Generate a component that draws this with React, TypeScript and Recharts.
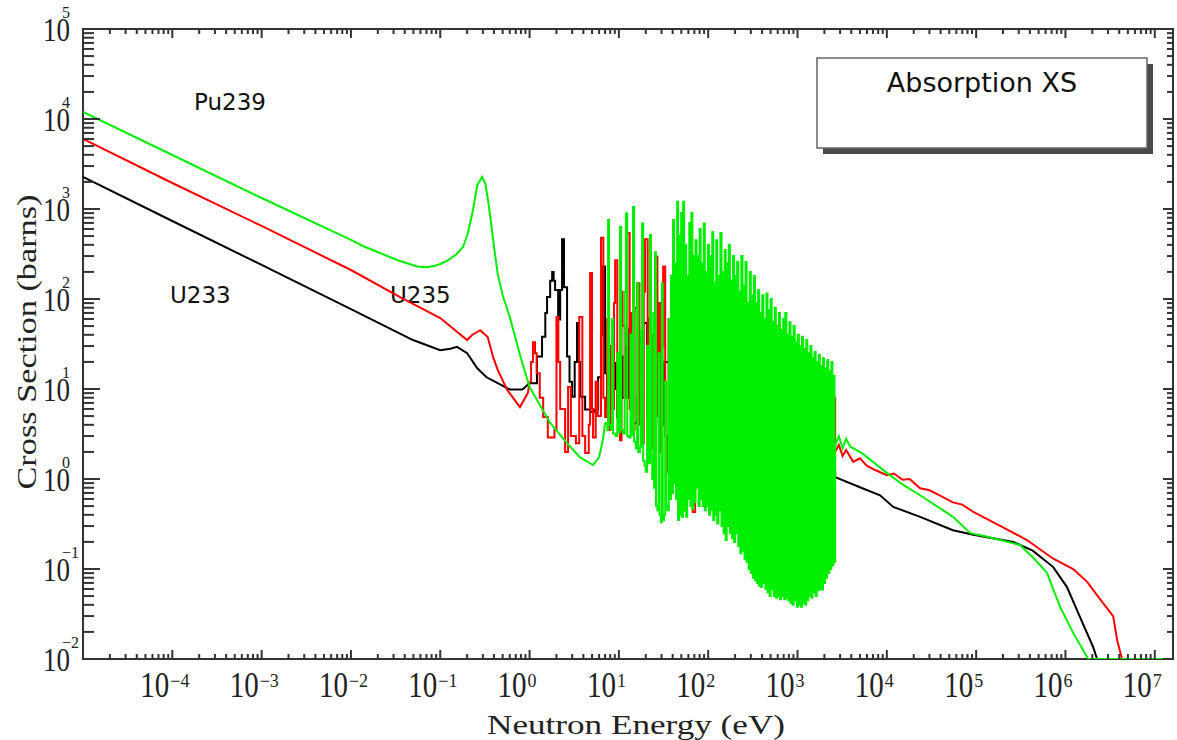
import React from 'react';
import { ComposedChart, Line, XAxis, YAxis } from 'recharts';

// energies in eV, cross sections in barns: [E, sigma]
type Pt = [number, number];

const xMajorTicks = [1e-4, 1e-3, 1e-2, 1e-1, 1, 10, 100, 1e3, 1e4, 1e5, 1e6, 1e7];
const xMinorDecades = [1e-5, 1e-4, 1e-3, 1e-2, 1e-1, 1, 10, 100, 1e3, 1e4, 1e5, 1e6];
const yMajorTicks = [1e-2, 1e-1, 1, 10, 100, 1e3, 1e4, 1e5];
const yMinorDecades = [1e-2, 1e-1, 1, 10, 100, 1e3, 1e4];
const minorSteps = [2, 3, 4, 5, 6, 7, 8, 9];

const seriesNames = ['U233', 'U235', 'Pu239'];

const u233Thermal: Pt[] = [
  [1e-5, 2270], [1e-4, 736], [1e-3, 239], [0.01, 77], [0.0495, 35], [0.1, 27], [0.13, 28],
  [0.154, 29.4], [0.2, 25], [0.26, 17], [0.33, 13.5], [0.44, 11.6], [0.6, 9.9], [0.83, 9.9],
  [1.0, 11.6],
];
const u233Resonance: Pt[] = [
  [1.0, 11.6], [1.1, 11.6], [1.21, 23], [1.38, 38], [1.5, 70], [1.57, 105], [1.7, 160], [1.79, 200],
  [1.86, 160], [1.93, 126], [2.09, 59], [2.2, 126], [2.31, 460], [2.43, 135], [2.63, 23], [2.8, 12],
  [2.99, 8.2], [3.2, 20], [3.4, 54], [3.55, 20], [3.68, 8.2], [4.19, 5.9], [4.76, 5.6], [5.42, 5.9],
  [5.85, 13.5], [6.3, 40], [6.65, 230], [7.0, 15], [7.38, 6.3], [8.0, 8], [8.61, 19.5], [9.2, 10],
  [9.55, 4.9], [9.8, 23], [11, 8], [12.7, 46], [13.4, 10], [14.1, 4.2], [16, 8], [18.7, 54],
  [20.7, 5], [24, 12], [28, 4], [32, 20], [37.4, 27], [41, 3], [44.9, 1.5], [48, 3.8], [52, 0.9],
  [55, 2.5], [59.6, 0.86], [65, 3], [75, 1.2], [90, 5], [110, 1.3], [150, 6], [200, 1.5], [300, 5],
  [450, 1.2], [700, 4], [1000, 1.3], [1500, 3], [2000, 1.2], [2640, 1.05],
];
const u233Fast: Pt[] = [
  [2640, 1.05], [5000, 0.81], [8400, 0.66], [1.18e4, 0.49], [2.36e4, 0.38], [5.5e4, 0.27],
  [9.3e4, 0.24], [2.6e5, 0.2], [4.3e5, 0.16], [7.3e5, 0.105], [1.04e6, 0.063], [1.46e6, 0.029],
  [2.04e6, 0.0136], [2.26e6, 0.01], [1.6e7, 0.01],
];

const u235Thermal: Pt[] = [
  [1e-5, 6000], [1e-4, 1945], [1e-3, 648], [0.01, 210], [0.0355, 105], [0.1, 61.5], [0.2, 35],
  [0.227, 39.8], [0.28, 45], [0.34, 37.8], [0.39, 22.7], [0.44, 16.3], [0.56, 9.8], [0.78, 6.3],
  [0.96, 9.1], [1.0, 12],
];
const u235Resonance: Pt[] = [
  [1.0, 12], [1.04, 20], [1.09, 33], [1.15, 25], [1.2, 15], [1.3, 8], [1.42, 4.9], [1.6, 2.9],
  [1.9, 3.5], [2.0, 63], [2.1, 20], [2.2, 6], [2.5, 2.0], [2.7, 10.5], [2.9, 3], [3.3, 2.5],
  [3.6, 63], [3.9, 3], [4.19, 1.95], [4.6, 4], [4.76, 195], [5.0, 6], [5.14, 2.9], [5.5, 12],
  [5.8, 5], [6.3, 480], [6.7, 8], [7.01, 4.9], [7.4, 60], [7.7, 3.5], [8.0, 30], [8.5, 6],
  [8.8, 90], [9.08, 270], [9.6, 5], [10.3, 2.7], [10.7, 120], [11, 50], [11.6, 8], [12.0, 30],
  [12.4, 540], [13.2, 6], [13.7, 70], [14.1, 3.5], [15, 80], [16.0, 150], [17, 4], [17.6, 40],
  [18.2, 2.5], [19.0, 120], [19.6, 460], [21, 10], [21.8, 60], [22.5, 2.2], [23.5, 40], [24.4, 5],
  [25.4, 295], [27, 5], [28, 90], [29, 2], [30.2, 30], [31.3, 230], [33, 3], [34.7, 1.2], [36, 60],
  [37, 20], [38.3, 3], [39.5, 175], [42, 3], [43.5, 80], [44.9, 1.8], [46.5, 240], [48.5, 3],
  [50, 40], [52, 175], [55, 1.5], [58, 54], [61, 2], [64.4, 163], [67, 0.43], [71.3, 90], [75, 3],
  [81.1, 37], [85, 48], [89, 1.5], [100, 20], [120, 5], [143, 59], [150, 2], [163, 98], [175, 3],
  [220, 10], [287, 0.17], [320, 8], [469, 33], [500, 3], [800, 12], [1000, 2], [1574, 16],
  [1700, 2], [2200, 8], [2640, 2.0],
];
const u235Fast: Pt[] = [
  [2640, 2.0], [2900, 2.4], [3200, 1.8], [3500, 2.1], [4200, 1.55], [5000, 1.7], [6000, 1.4],
  [7500, 1.25], [1.0e4, 1.1], [1.2e4, 1.15], [1.5e4, 0.98], [1.8e4, 1.0], [2.36e4, 0.79],
  [3e4, 0.75], [4e4, 0.65], [5.5e4, 0.55], [7e4, 0.52], [9.3e4, 0.43], [2.0e5, 0.29],
  [3.7e5, 0.21], [7.3e5, 0.13], [1.22e6, 0.1], [1.75e6, 0.072], [2.45e6, 0.046], [3.42e6, 0.03],
  [3.8e6, 0.016], [4.3e6, 0.01], [1.6e7, 0.01],
];

const pu239Thermal: Pt[] = [
  [1e-5, 1.2e4], [1e-4, 3980], [1e-3, 1325], [0.01, 453], [0.0136, 388], [0.0328, 271],
  [0.055, 230], [0.07, 225], [0.085, 232], [0.1, 245], [0.119, 265], [0.15, 310], [0.18, 378],
  [0.204, 540], [0.233, 980], [0.26, 1850], [0.294, 2270], [0.32, 1900], [0.345, 1200], [0.37, 700],
  [0.4, 380], [0.44, 190], [0.5, 110], [0.6, 63], [0.8, 22], [1.0, 10.5], [1.7, 4.2], [2.63, 2.5],
  [3.68, 1.74], [5.14, 1.43], [6.0, 1.74], [6.65, 2.8], [7.0, 4.2],
];
const pu239Resonance: Pt[] = [
  [7.0, 4.2], [7.4, 3.5], [7.57, 755], [7.75, 4.0], [8.1, 3.6], [8.4, 60], [8.6, 3.2], [9.2, 3.0],
  [9.6, 25], [9.9, 3.3], [10.3, 630], [10.6, 3.5], [11.2, 3.2], [11.6, 120], [12.0, 890], [12.4, 3.0],
  [13.0, 2.9], [13.5, 40], [13.9, 3.1], [14.4, 1050], [14.8, 2.6], [15.5, 2.2], [16.0, 150],
  [16.5, 2.0], [17.2, 2.3], [17.7, 45], [18.2, 690], [18.7, 1.6], [19.4, 1.4], [20.0, 1.2],
  [20.7, 30], [21.3, 1.5], [22.3, 515], [22.9, 1.8], [23.6, 1.0], [24.3, 70], [24.8, 0.8],
  [25.4, 330], [26.0, 0.5], [27.0, 0.45], [27.8, 25], [28.5, 0.4], [29.5, 0.33], [30.3, 150],
  [31.0, 0.35], [32.0, 0.4], [33.0, 12], [34.0, 0.5], [35.0, 0.45], [36.2, 60], [37.2, 0.6],
  [38.3, 180], [39.3, 0.7], [40.4, 755], [41.5, 0.9], [42.5, 250], [43.7, 0.6], [44.9, 1200],
  [46.0, 0.35], [47.2, 500], [48.5, 0.4], [49.8, 900], [51.0, 0.38], [52.4, 1200],
  [53.8, 0.45], [55.2, 400], [56.7, 0.38], [58.2, 180], [59.8, 0.6], [61.4, 700], [63.1, 0.5],
  [64.8, 900], [66.5, 0.46], [68.3, 300], [70.2, 0.55], [72.1, 450], [74.0, 0.8], [76.0, 300],
  [78.1, 0.5], [80.2, 600], [82.4, 0.6], [84.6, 250], [86.9, 0.5], [89.2, 690], [91.6, 0.45],
  [94.1, 200], [96.6, 0.5], [99.2, 400], [102, 0.4], [105, 300], [108, 0.45], [111, 550],
  [114, 0.35], [117, 150], [120, 0.4], [123, 450], [126, 0.32], [130, 180], [133, 0.45], [137, 540],
  [141, 0.3], [145, 200], [149, 0.25], [153, 350], [157, 0.21], [161, 250], [166, 0.3], [170, 400],
  [175, 0.25], [180, 160], [185, 0.22], [190, 300], [195, 0.2], [200, 180], [206, 0.25], [211, 260],
  [217, 0.18], [223, 120], [229, 0.15], [235, 300], [242, 0.16], [248, 140], [255, 0.13], [262, 257],
  [269, 0.12], [276, 90], [284, 0.1], [292, 200], [300, 0.09], [308, 110], [316, 0.08], [325, 180],
  [334, 0.075], [343, 90], [352, 0.07], [362, 126], [372, 0.065], [382, 70], [392, 0.063], [403, 110],
  [414, 0.07], [425, 60], [437, 0.06], [449, 115], [461, 0.055], [474, 75], [487, 0.05], [500, 100],
  [514, 0.06], [528, 55], [542, 0.05], [557, 80], [572, 0.048], [588, 50], [604, 0.05], [620, 70],
  [637, 0.046], [655, 45], [673, 0.05], [691, 60], [710, 0.046], [730, 70], [750, 0.048], [770, 40],
  [791, 0.045], [813, 55], [835, 0.042], [858, 38], [881, 0.04], [905, 50], [930, 0.045], [956, 33],
  [982, 0.038], [1009, 40], [1036, 0.04], [1065, 30], [1094, 0.038], [1124, 38], [1155, 0.042],
  [1186, 28], [1219, 0.04], [1252, 35], [1286, 0.045], [1321, 25], [1357, 0.05], [1394, 30],
  [1433, 0.048], [1472, 22], [1512, 0.055], [1554, 26], [1596, 0.05], [1640, 20], [1685, 0.058],
  [1731, 24], [1778, 0.06], [1827, 18], [1877, 0.059], [1928, 22], [1981, 0.07], [2035, 17],
  [2091, 0.08], [2148, 21], [2207, 0.09], [2267, 16], [2329, 0.1], [2393, 20], [2458, 0.11],
  [2526, 14], [2595, 0.12], [2640, 2.4],
];
const pu239Fast: Pt[] = [
  [2640, 2.4], [2900, 3.0], [3200, 2.2], [3500, 2.8], [3880, 2.3], [5400, 1.9], [1.0e4, 1.17],
  [1.5e4, 0.87], [2.36e4, 0.66], [5.5e4, 0.38], [8.6e4, 0.25], [1.3e5, 0.23], [3.1e5, 0.185],
  [4.3e5, 0.135], [6.2e5, 0.091], [8.7e5, 0.038], [1.22e6, 0.0195], [1.8e6, 0.01], [1.6e7, 0.01],
];

const W = 1177;
const H = 740;
const PLOT = { left: 83, top: 29, right: 1173, bottom: 659 };
const AXIS = '#333';
const TICK_FONT = '"Liberation Serif", serif';
const LABEL_FONT = '"DejaVu Sans", sans-serif';

const toRows = (pts: Pt[]) => pts.map(([e, xs]) => ({ e, xs }));

const isMajor = (v: number, majors: number[]) => majors.some((m) => Math.abs(v / m - 1) < 1e-6);
const expText = (v: number) => {
  const p = Math.round(Math.log10(v));
  return p < 0 ? `\u2212${-p}` : `${p}`;
};

const xTicks = [
  ...xMajorTicks,
  ...xMinorDecades.flatMap((d) => minorSteps.map((s) => d * s)),
].sort((a, b) => a - b);
const yTicks = [
  ...yMajorTicks,
  ...yMinorDecades.flatMap((d) => minorSteps.map((s) => d * s)),
].sort((a, b) => a - b);

const XTick = (props: any) => {
  const { x, payload } = props;
  const major = isMajor(payload.value, xMajorTicks);
  const len = major ? 9 : 5;
  return (
    <g>
      <line x1={x} x2={x} y1={PLOT.bottom} y2={PLOT.bottom - len} stroke={AXIS} strokeWidth={2} />
      <line x1={x} x2={x} y1={PLOT.top} y2={PLOT.top + len} stroke={AXIS} strokeWidth={2} />
      {major && (
        <g fontFamily={TICK_FONT} fill="#222">
          <text transform={`translate(${x - 3},${PLOT.bottom + 38}) scale(1,1.25)`} textAnchor="end" fontSize={29}>
            10
          </text>
          <text x={x - 2} y={PLOT.bottom + 28} fontSize={18}>
            {expText(payload.value)}
          </text>
        </g>
      )}
    </g>
  );
};

// y labels: exponent sits just above the right half of the "10", as in the original plot
const YTick = (props: any) => {
  const { y, payload } = props;
  const major = isMajor(payload.value, yMajorTicks);
  const len = major ? 17 : 11;
  const rlen = major ? 10 : 6;
  return (
    <g>
      <line x1={PLOT.left} x2={PLOT.left + len} y1={y} y2={y} stroke={AXIS} strokeWidth={2} />
      <line x1={PLOT.right} x2={PLOT.right - rlen} y1={y} y2={y} stroke={AXIS} strokeWidth={2} />
      {major && (
        <g fontFamily={TICK_FONT} fill="#222">
          <text transform={`translate(70,${y + 12}) scale(1,1.25)`} textAnchor="end" fontSize={27}>
            10
          </text>
          <text x={62} y={y - 11} fontSize={16}>
            {expText(payload.value)}
          </text>
        </g>
      )}
    </g>
  );
};

const series = [
  { name: seriesNames[0], color: '#000000', parts: [u233Thermal, u233Resonance, u233Fast] },
  { name: seriesNames[1], color: '#ff0000', parts: [u235Thermal, u235Resonance, u235Fast] },
  { name: seriesNames[2], color: '#00ee00', parts: [pu239Thermal, pu239Resonance, pu239Fast] },
];
const partTypes = ['linear', 'stepAfter', 'linear'] as const;

export default function App() {
  return (
    <div style={{ position: 'absolute', left: 0, top: 0, width: W, height: H, background: '#fff' }}>
      <svg width={W} height={H} style={{ position: 'absolute', left: 0, top: 0 }}>
        <rect
          x={PLOT.left}
          y={PLOT.top}
          width={PLOT.right - PLOT.left}
          height={PLOT.bottom - PLOT.top}
          fill="none"
          stroke={AXIS}
          strokeWidth={2}
        />
        <rect x={823} y={64} width={330} height={90} fill="#4a4a4a" />
        <rect x={817} y={58} width={330} height={90} fill="#fff" stroke="#666" strokeWidth={1.5} />
        <text x={982} y={92} textAnchor="middle" fontFamily={LABEL_FONT} fontSize={27} fill="#111">
          Absorption XS
        </text>
        <text x={194} y={110} fontFamily={LABEL_FONT} fontSize={23} fill="#111">Pu239</text>
        <text x={170} y={303} fontFamily={LABEL_FONT} fontSize={23} fill="#111">U233</text>
        <text x={390} y={303} fontFamily={LABEL_FONT} fontSize={23} fill="#111">U235</text>
        <text
          x={636}
          y={734}
          textAnchor="middle"
          fontFamily={TICK_FONT}
          fontSize={28}
          fill="#222"
          textLength={298}
          lengthAdjust="spacingAndGlyphs"
        >
          Neutron Energy (eV)
        </text>
        <text
          transform="translate(36,342) rotate(-90)"
          textAnchor="middle"
          fontFamily={TICK_FONT}
          fontSize={27}
          fill="#222"
          textLength={295}
          lengthAdjust="spacingAndGlyphs"
        >
          Cross Section (barns)
        </text>
      </svg>
      <div style={{ position: 'absolute', left: 0, top: 0 }}>
        <ComposedChart width={W} height={H} margin={{ top: 29, right: 4, bottom: 31, left: 23 }}>
          <XAxis
            type="number"
            dataKey="e"
            scale="log"
            domain={[1e-5, 1.6e7]}
            allowDataOverflow
            ticks={xTicks}
            interval={0}
            height={50}
            axisLine={false}
            tickLine={false}
            tickSize={0}
            tickMargin={0}
            tick={(p: any) => <XTick {...p} />}
          />
          <YAxis
            type="number"
            scale="log"
            domain={[1e-2, 1e5]}
            allowDataOverflow
            ticks={yTicks}
            interval={0}
            width={60}
            axisLine={false}
            tickLine={false}
            tickSize={0}
            tickMargin={0}
            tick={(p: any) => <YTick {...p} />}
          />
          {series.flatMap((s) =>
            s.parts.map((part, i) => (
              <Line
                key={`${s.name}-${i}`}
                data={toRows(part)}
                dataKey="xs"
                name={s.name}
                type={partTypes[i]}
                stroke={s.color}
                strokeWidth={2}
                dot={false}
                isAnimationActive={false}
              />
            ))
          )}
        </ComposedChart>
      </div>
    </div>
  );
}
